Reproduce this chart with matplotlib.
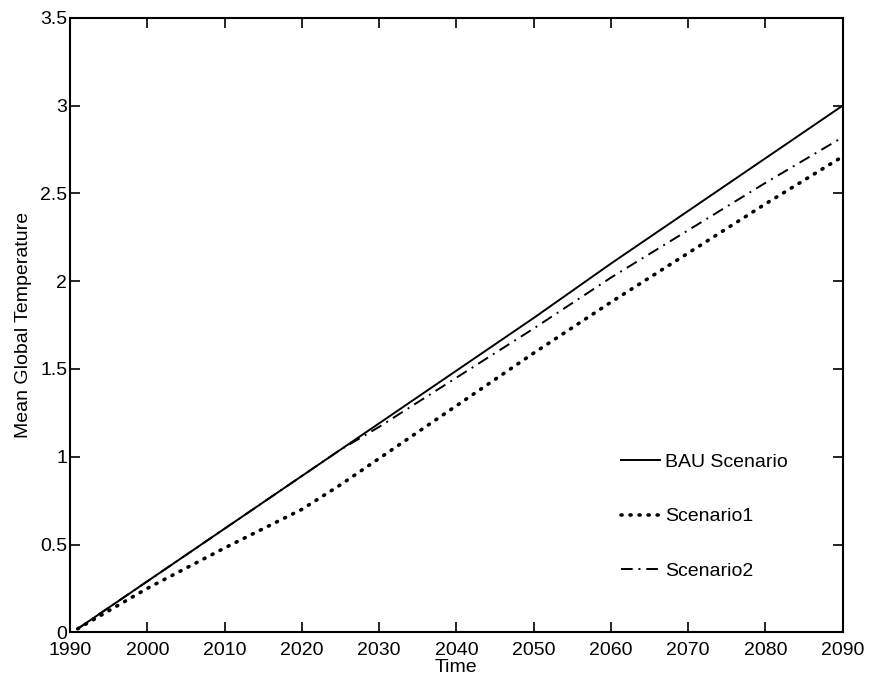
import numpy as np
import matplotlib.pyplot as plt

plt.rcParams['font.family'] = ['Liberation Sans', 'DejaVu Sans']

years = [1991, 2000, 2010, 2020, 2025, 2030, 2040, 2050, 2060, 2070, 2080, 2090]
bau = [0.02, 0.29, 0.59, 0.89, 1.04, 1.19, 1.49, 1.79, 2.10, 2.40, 2.70, 3.00]
scen1 = [0.02, 0.25, 0.48, 0.70, 0.84, 0.99, 1.29, 1.59, 1.88, 2.16, 2.44, 2.71]
scen2 = [0.02, 0.29, 0.59, 0.89, 1.04, 1.17, 1.45, 1.73, 2.02, 2.29, 2.56, 2.82]

fig = plt.figure(figsize=(8.75, 6.88), dpi=100)
ax = fig.add_axes([0.080, 0.081, 0.883, 0.893])

ax.plot(years, bau, color='black', lw=1.4, label='BAU Scenario')
ax.plot(years, scen1, color='black', lw=2.6, linestyle=(0, (0.3, 2.2)),
        dash_capstyle='round', label='Scenario1')
ax.plot(years, scen2, color='black', lw=1.4, linestyle=(0, (6, 3, 1, 3)),
        label='Scenario2')

ax.set_xlim(1990, 2090)
ax.set_ylim(0, 3.5)
ax.set_xticks(np.arange(1990, 2091, 10))
ax.set_yticks([0, 0.5, 1, 1.5, 2, 2.5, 3, 3.5])
ax.set_yticklabels(['0', '0.5', '1', '1.5', '2', '2.5', '3', '3.5'])
ax.tick_params(direction='in', top=True, right=True, length=7, width=1.2,
               labelsize=14)
ax.tick_params(axis='x', pad=7)
ax.tick_params(axis='y', pad=2)
for s in ax.spines.values():
    s.set_linewidth(1.5)

ax.set_xlabel('Time', fontsize=14, labelpad=0)
ax.set_ylabel('Mean Global Temperature', fontsize=14, labelpad=6)

ax.legend(loc='upper left', bbox_to_anchor=(0.69, 0.32), frameon=False,
          fontsize=14, handlelength=2.0, handletextpad=0.3, labelspacing=1.9)

fig.savefig('out.png', dpi=100)
